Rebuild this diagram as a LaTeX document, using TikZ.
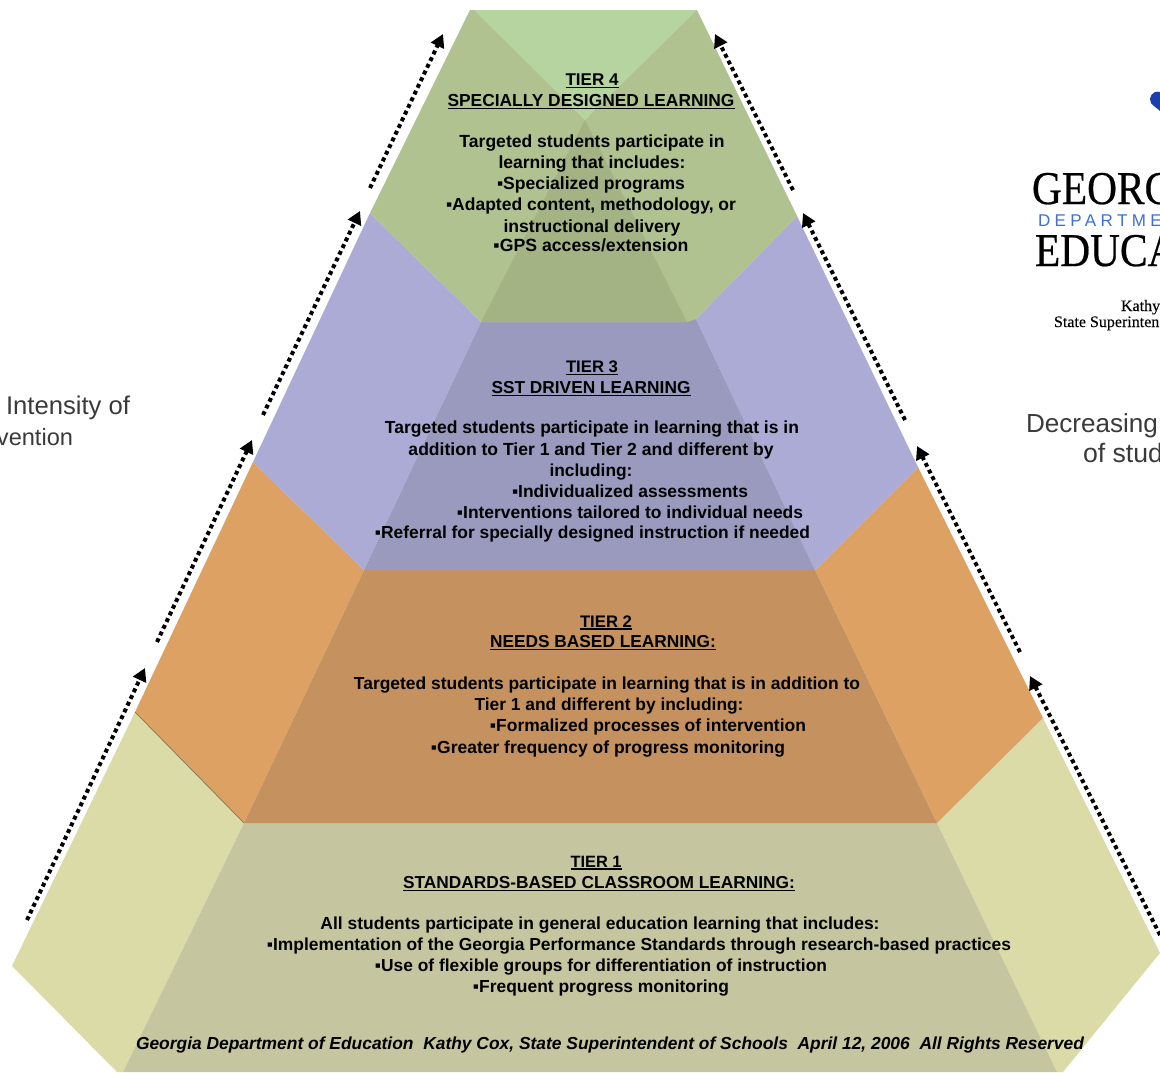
\documentclass[tikz,border=0pt]{standalone}
\usepackage{graphicx}
\usepackage{fontspec}
\usetikzlibrary{arrows.meta}
\setmainfont{Liberation Sans}
\newfontfamily\serfont[FakeBold=0.5]{Liberation Serif}
\newfontfamily\sersmall[FakeBold=0.25]{Liberation Serif}
\newfontfamily\spfont[LetterSpace=26]{Liberation Sans}
\newcommand{\fw}[2]{\resizebox{#1pt}{!}{#2}}
\newcommand{\ulb}[1]{\vtop{\hbox{#1}\kern1.6pt\hrule height 1.3pt}}
\definecolor{tfourside}{HTML}{B0C28F}
\definecolor{tfourtop}{HTML}{B6D4A0}
\definecolor{tfourin}{HTML}{A4B384}
\definecolor{tthreeside}{HTML}{ABABD6}
\definecolor{tthreein}{HTML}{9A9ABF}
\definecolor{ttwoside}{HTML}{DDA263}
\definecolor{ttwoin}{HTML}{C5925F}
\definecolor{toneside}{HTML}{DBDBA8}
\definecolor{tonein}{HTML}{C5C69F}
\definecolor{sidetxt}{HTML}{3A3A3A}
\definecolor{logoblue}{HTML}{3F6FD2}
\definecolor{peach}{HTML}{1B3FAE}
\tikzset{
  lbl/.style={anchor=base,inner sep=0pt,outer sep=0pt,font=\fontsize{18}{20}\selectfont\bfseries,text=black},
  foot/.style={lbl,font=\fontsize{18}{20}\selectfont\bfseries\itshape},
  sidelbl/.style={inner sep=0pt,outer sep=0pt,font=\fontsize{26}{28}\selectfont,text=sidetxt},
  logo/.style={anchor=base west,inner sep=0pt,outer sep=0pt,text=black},
  dotarrow/.style={line width=4pt,dash pattern=on 4pt off 3.4pt,draw=black,-{Triangle[length=13pt,width=14pt]}},
}
\begin{document}
\begin{tikzpicture}[x=1pt,y=-1pt]
\useasboundingbox (0,0) rectangle (1160,1072);
\clip (0,0) rectangle (1160,1072);
% corner points
\coordinate (ta) at (470,10); \coordinate (tb) at (697,10);
\coordinate (ta2) at (474,10); \coordinate (ap) at (585,120);
\coordinate (l4) at (370,213); \coordinate (r4) at (797,216);
\coordinate (l3) at (253,462); \coordinate (r3) at (918,467);
\coordinate (l2) at (135,712); \coordinate (r2) at (1043,718);
\coordinate (l1) at (12,966);  \coordinate (r1) at (1160,953);
\coordinate (bl) at (117,1072); \coordinate (br) at (1063,1072);
\coordinate (i4l) at (481,322); \coordinate (i4r) at (696,319); \coordinate (i4m) at (687,322);
\coordinate (i3l) at (364,570); \coordinate (i3r) at (815,570);
\coordinate (i2l) at (244,823); \coordinate (i2r) at (937,823);
\coordinate (i1l) at (123,1072); \coordinate (i1r) at (1057,1072);
% tier 1
\fill[toneside] (l2) -- (i2l) -- (i1l) -- (bl) -- (l1) -- cycle;
\fill[toneside] (r2) -- (r1) -- (br) -- (i1r) -- (i2r) -- cycle;
\fill[tonein] (i2l) -- (i2r) -- (i1r) -- (i1l) -- cycle;
% tier 2
\fill[ttwoside] (l3) -- (i3l) -- (i2l) -- (l2) -- cycle;
\fill[ttwoside] (r3) -- (r2) -- (i2r) -- (i3r) -- cycle;
\fill[ttwoin] (i3l) -- (i3r) -- (i2r) -- (i2l) -- cycle;
\draw[line width=0.7pt,color=black!45!toneside] (l2) -- (i2l);
% tier 3
\fill[tthreeside] (l4) -- (i4l) -- (i3l) -- (l3) -- cycle;
\fill[tthreeside] (r4) -- (r3) -- (i3r) -- (i4r) -- cycle;
\fill[tthreein] (i4l) -- (i4r) -- (i3r) -- (i3l) -- cycle;
% tier 4
\fill[tfourside] (ta) -- (tb) -- (r4) -- (i4r) -- (i4m) -- (i4l) -- (l4) -- cycle;
\fill[tfourtop] (ta2) -- (tb) -- (ap) -- cycle;
\fill[tfourin] (ap) -- (i4m) -- (i4l) -- cycle;
% side arrows
\coordinate (a1s) at (27,920);  \coordinate (a1e) at (145,668);
\coordinate (a2s) at (157,642); \coordinate (a2e) at (252,440);
\coordinate (a3s) at (263,415); \coordinate (a3e) at (360,211);
\coordinate (a4s) at (370,188); \coordinate (a4e) at (443,34);
\coordinate (b4s) at (793,190); \coordinate (b4e) at (715,34);
\coordinate (b3s) at (905,420); \coordinate (b3e) at (803,213);
\coordinate (b2s) at (1020,652);\coordinate (b2e) at (917,446);
\coordinate (b1s) at (1160,935);\coordinate (b1e) at (1030,676);
\foreach \s/\e in {a1s/a1e,a2s/a2e,a3s/a3e,a4s/a4e,b4s/b4e,b3s/b3e,b2s/b2e,b1s/b1e}
  \draw[dotarrow] (\s) -- (\e);
% tier 4 text
\node[lbl] (t4a) at (592,85) {\fw{53}{\ulb{TIER 4}}};
\node[lbl] (t4b) at (591,106) {\fw{287}{\ulb{SPECIALLY DESIGNED LEARNING}}};
\node[lbl] (t4c) at (592,147) {\fw{265}{Targeted students participate in}};
\node[lbl] (t4d) at (592,168) {\fw{187}{learning that includes:}};
\node[lbl] (t4e) at (591,189) {\fw{188}{▪Specialized programs}};
\node[lbl] (t4f) at (591,210) {\fw{290}{▪Adapted content, methodology, or}};
\node[lbl] (t4g) at (592,232) {\fw{177}{instructional delivery}};
\node[lbl] (t4h) at (591,251) {\fw{195}{▪GPS access/extension}};
% tier 3 text
\node[lbl] (t3a) at (592,372) {\fw{52}{\ulb{TIER 3}}};
\node[lbl] (t3b) at (591,393) {\fw{199}{\ulb{SST DRIVEN LEARNING}}};
\node[lbl] (t3c) at (592,433) {\fw{414}{Targeted students participate in learning that is in}};
\node[lbl] (t3d) at (591,455) {\fw{365}{addition to Tier 1 and Tier 2 and different by}};
\node[lbl] (t3e) at (591,476) {\fw{83}{including:}};
\node[lbl] (t3f) at (630,497) {\fw{236}{▪Individualized assessments}};
\node[lbl] (t3g) at (630,518) {\fw{346}{▪Interventions tailored to individual needs}};
\node[lbl] (t3h) at (592.5,538) {\fw{435}{▪Referral for specially designed instruction if needed}};
% tier 2 text
\node[lbl] (t2a) at (606,627) {\fw{52}{\ulb{TIER 2}}};
\node[lbl] (t2b) at (603,647) {\fw{226}{\ulb{NEEDS BASED LEARNING:}}};
\node[lbl] (t2c) at (607,689) {\fw{506}{Targeted students participate in learning that is in addition to}};
\node[lbl] (t2d) at (609,710) {\fw{269}{Tier 1 and different by including:}};
\node[lbl] (t2e) at (648,731) {\fw{316}{▪Formalized processes of intervention}};
\node[lbl] (t2f) at (608,753) {\fw{354}{▪Greater frequency of progress monitoring}};
% tier 1 text
\node[lbl] (t1a) at (596,867) {\fw{51}{\ulb{TIER 1}}};
\node[lbl] (t1b) at (599,888) {\fw{392}{\ulb{STANDARDS-BASED CLASSROOM LEARNING:}}};
\node[lbl] (t1c) at (600,929) {\fw{559}{All students participate in general education learning that includes:}};
\node[lbl] (t1d) at (639,950) {\fw{744}{▪Implementation of the Georgia Performance Standards through research-based practices}};
\node[lbl] (t1e) at (601,971) {\fw{452}{▪Use of flexible groups for differentiation of instruction}};
\node[lbl] (t1f) at (601,992) {\fw{256}{▪Frequent progress monitoring}};
\node[foot] (t1g) at (610,1049) {\fw{948}{Georgia Department of Education\ \ Kathy Cox, State Superintendent of Schools\ \ April 12, 2006\ \ All Rights Reserved}};
% side labels
\node[sidelbl,anchor=base west] (sl1) at (6,414) {\fw{124}{Intensity of}};
\node[sidelbl,anchor=base east] (sl2) at (73,445) {\fw{76}{vention}};
\node[sidelbl,anchor=base west] (sr1) at (1026,432) {\fw{132}{Decreasing}};
\node[sidelbl,anchor=base west] (sr2) at (1083,462) {\fw{80}{of stud}};
% logo
\fill[peach] (1160,92) .. controls (1152,90) and (1148,98) .. (1151,103) .. controls (1153,106) and (1157,108) .. (1160,111) -- cycle;
\node[logo] (lg1) at (1032,204) {\scalebox{0.88}[1]{\serfont\fontsize{47}{49}\selectfont GEORG}};
\node[logo] (lg2) at (1038,226) {\spfont\fontsize{17}{18}\selectfont\color{logoblue}DEPARTME};
\node[logo] (lg3) at (1035,266) {\scalebox{0.88}[1]{\serfont\fontsize{47}{49}\selectfont EDUCA}};
\node[logo] (lg4) at (1121,311) {\sersmall\fontsize{16}{17}\selectfont Kathy};
\node[logo] (lg5) at (1054,327) {\sersmall\fontsize{16}{17}\selectfont State Superinten};
\end{tikzpicture}
\end{document}
